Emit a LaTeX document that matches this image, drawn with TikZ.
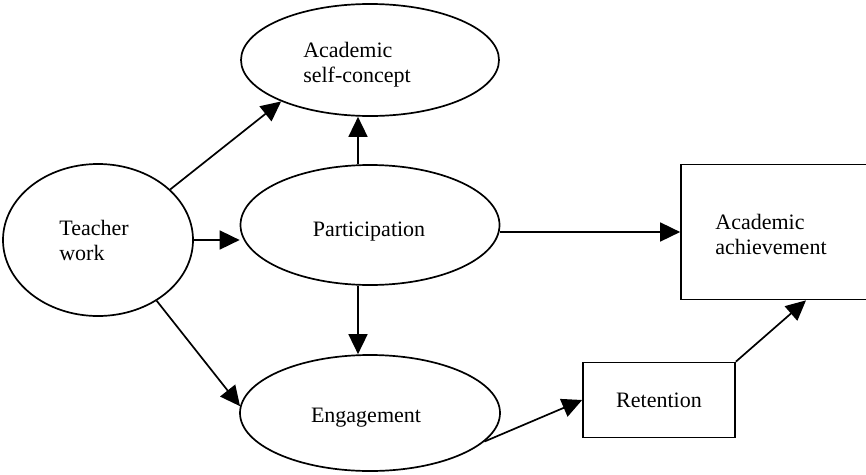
\documentclass[tikz,border=0pt]{standalone}
\usepackage{fontspec}
\setmainfont{Liberation Serif}
\usetikzlibrary{arrows.meta, shapes.geometric}

\begin{document}
\begin{tikzpicture}[x=1pt, y=-1pt, line width=1.7pt,
		txt/.style = {inner sep=0pt, align=left, font=\fontsize{22}{25}\selectfont},
		main/.style = {draw, ellipse, txt},
		box/.style = {draw, rectangle, txt},
		arr/.style = {-{Triangle[length=20pt,width=19pt]}}]
		\useasboundingbox (0,0) rectangle (866,474);
		\clip (0,0) rectangle (866,474);
		\node[main, minimum width=190pt, minimum height=152pt,
			label={[txt, xshift=-4pt]center:Teacher\\work}] (teacher) at (98,240) {};
		\node[main, minimum width=258pt, minimum height=112pt,
			label={[txt, xshift=-13pt, yshift=-5pt]center:Academic\\self-concept}] (concept) at (370,60) {};
		\node[main, minimum width=259pt, minimum height=120pt,
			label={[txt, xshift=-1pt, yshift=-7pt]center:Participation}] (part) at (370,225) {};
		\node[main, minimum width=260pt, minimum height=116pt,
			label={[txt, xshift=-4pt, yshift=-5pt]center:Engagement}] (eng) at (370,413) {};
		\node[box, minimum width=152pt, minimum height=75pt] (ret) at (659,400) {Retention};
		\node[box, minimum width=192pt, minimum height=135pt,
			label={[txt, xshift=-6pt, yshift=-2pt]center:Academic\\achievement}] (ach) at (777,232) {};
		
		\draw[arr] (teacher.35) -- (concept.205);
		\draw[arr] (teacher.east) -- (teacher.east -| part.west);
		\draw[arr] (teacher.-46) -- (eng.177);
		\draw[arr] ([xshift=-12pt]part.north) -- ([xshift=-12pt]concept.south);
		\draw[arr] ([xshift=-12pt]part.south) -- ([xshift=-12pt]eng.north);
		\draw[arr] (part.east |- ach.west) -- (ach.west);
		\draw[arr] (eng.-14) -- (ret.west);
		\draw[arr] (ret.north east) -- ([xshift=29pt]ach.south);
		\end{tikzpicture}
\end{document}
